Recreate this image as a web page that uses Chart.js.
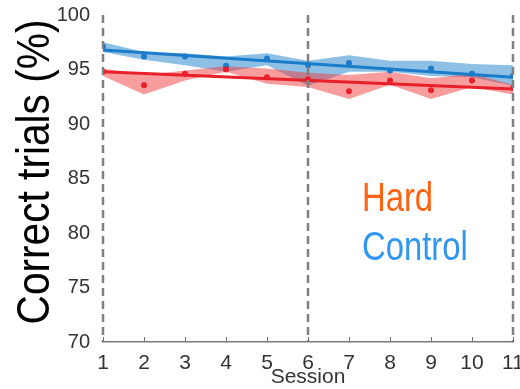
<!DOCTYPE html>
<html>
<head>
<meta charset="utf-8">
<script src="https://cdn.jsdelivr.net/npm/chart.js@4.4.1/dist/chart.umd.min.js"></script>
<style>
	html, body { margin: 0; padding: 0; background: #fff; }
	#wrap { width: 520px; height: 389px; }
</style>
</head>
<body>
<div id="wrap"><canvas id="trialsChart" width="520" height="389"></canvas></div>
<script>
// values
var sessions = [1, 2, 3, 4, 5, 6, 7, 8, 9, 10, 11];
var yTicks = [70, 75, 80, 85, 90, 95, 100];
var dividers = [1, 6, 11];

var hardMean = [94.8, 93.55, 94.6, 95.0, 94.3, 94.1, 93.0, 94.0, 93.1, 94.0, 93.3];
var hardUpper = [95.1, 94.5, 94.9, 95.3, 95.1, 94.7, 94.5, 94.8, 94.2, 94.6, 93.6];
var hardLower = [94.4, 92.7, 94.0, 94.8, 93.7, 93.4, 92.3, 93.6, 92.3, 93.4, 92.7];

var controlMean = [97.1, 96.2, 96.2, 95.35, 96.0, 95.4, 95.6, 94.9, 95.1, 94.6, 94.4];
var controlUpper = [97.5, 96.6, 96.5, 96.2, 96.5, 95.8, 96.3, 95.8, 95.8, 95.5, 95.4];
var controlLower = [96.6, 95.9, 95.4, 94.8, 95.4, 93.5, 94.8, 94.8, 94.4, 94.3, 93.5];

// linear fit end points (session 1 and session 11)
var fitSessions = [1, 11];
var hardFit = [94.8, 93.2];
var controlFit = [96.8, 94.3];

var blue = '#1b7cc9';
var red = '#e8202a';
var font = '"Liberation Sans", Arial, sans-serif';

function pts(xs, ys) {
	var out = [];
	for (var i = 0; i < xs.length; i++) out.push({ x: xs[i], y: ys[i] });
	return out;
}

function band(data, color, target) {
	return {
		data: data, borderWidth: 0, pointRadius: 0, backgroundColor: color,
		fill: target, order: 3
	};
}

// scaled text, the original lettering is narrower than Arial
function squeezedText(ctx, text, x, y, f, color, sx, rot) {
	ctx.save();
	ctx.translate(x, y);
	if (rot) ctx.rotate(rot);
	ctx.scale(sx, 1);
	ctx.font = f;
	ctx.fillStyle = color;
	ctx.fillText(text, 0, 0);
	ctx.restore();
}

var extras = {
	id: 'extras',
	afterDatasetsDraw: function (chart) {
		var ctx = chart.ctx, xs = chart.scales.x;
		var top = chart.chartArea.top, bottom = chart.chartArea.bottom;
		ctx.save();
		ctx.strokeStyle = '#808080';
		ctx.lineWidth = 2.5;
		ctx.setLineDash([8, 5]);
		for (var i = 0; i < dividers.length; i++) {
			var px = xs.getPixelForValue(dividers[i]);
			ctx.beginPath();
			ctx.moveTo(px, top);
			ctx.lineTo(px, bottom);
			ctx.stroke();
		}
		ctx.setLineDash([]);
		ctx.lineWidth = 1;
		ctx.strokeStyle = '#707070';
		for (var j = 0; j < sessions.length; j++) {
			var tx = Math.round(xs.getPixelForValue(sessions[j])) + 0.5;
			ctx.beginPath();
			ctx.moveTo(tx, bottom);
			ctx.lineTo(tx, bottom - 5);
			ctx.stroke();
		}
		ctx.restore();
	},
	afterDraw: function (chart) {
		var ctx = chart.ctx;
		ctx.save();
		ctx.textAlign = 'center';
		ctx.textBaseline = 'middle';
		squeezedText(ctx, 'Correct trials (%)', 36, 172, '47px ' + font, '#000', 0.865, -Math.PI / 2);
		ctx.textAlign = 'left';
		ctx.textBaseline = 'alphabetic';
		squeezedText(ctx, 'Hard', 362, 211, '41px ' + font, '#ff6213', 0.8);
		squeezedText(ctx, 'Control', 362, 260, '41px ' + font, '#3196f2', 0.8);
		ctx.restore();
	}
};

var ctx = document.getElementById('trialsChart');
var trialsChart = new Chart(ctx, {
	type: 'line',
	data: {
		datasets: [
			band(pts(sessions, hardUpper), 'rgba(240, 60, 60, 0.5)', 1),
			band(pts(sessions, hardLower), 'rgba(0,0,0,0)', false),
			band(pts(sessions, controlUpper), 'rgba(50, 140, 210, 0.55)', 3),
			band(pts(sessions, controlLower), 'rgba(0,0,0,0)', false),
			{
				data: pts(fitSessions, hardFit), borderColor: red, borderWidth: 3,
				pointRadius: 0, fill: false, order: 2
			},
			{
				data: pts(fitSessions, controlFit), borderColor: blue, borderWidth: 3,
				pointRadius: 0, fill: false, order: 2
			},
			{
				data: pts(sessions, hardMean), showLine: false, pointRadius: 3,
				pointBackgroundColor: red, pointBorderWidth: 0, order: 1
			},
			{
				data: pts(sessions, controlMean), showLine: false, pointRadius: 3,
				pointBackgroundColor: blue, pointBorderWidth: 0, order: 1
			}
		]
	},
	options: {
		responsive: false,
		animation: false,
		layout: { padding: { left: 0, right: 7, top: 15, bottom: 0 } },
		plugins: { legend: { display: false }, tooltip: { enabled: false } },
		scales: {
			x: {
				type: 'linear', min: 1, max: 11,
				afterBuildTicks: function (scale) {
					scale.ticks = sessions.map(function (v) { return { value: v }; });
				},
				afterFit: function (scale) {
					scale.height = 47;
					scale.paddingLeft = 0;
					scale.paddingRight = 0;
				},
				grid: { display: false },
				border: { display: true, color: '#7a7a7a', width: 1.5 },
				ticks: {
					padding: 1, maxRotation: 0, autoSkip: false, color: '#333',
					font: { family: font, size: 21 }
				},
				title: {
					display: true, text: 'Session', color: '#333',
					padding: { top: 0, bottom: 1 },
					font: { family: font, size: 21, lineHeight: 1 }
				}
			},
			y: {
				type: 'linear', min: 70, max: 100,
				afterBuildTicks: function (scale) {
					scale.ticks = yTicks.map(function (v) { return { value: v }; });
				},
				afterFit: function (scale) {
					scale.width = 103;
					scale.paddingTop = 0;
					scale.paddingBottom = 0;
				},
				grid: { display: false },
				border: { display: false },
				ticks: {
					padding: 5, color: '#333',
					font: { family: font, size: 20 }
				}
			}
		}
	},
	plugins: [extras]
});
</script>
</body>
</html>
